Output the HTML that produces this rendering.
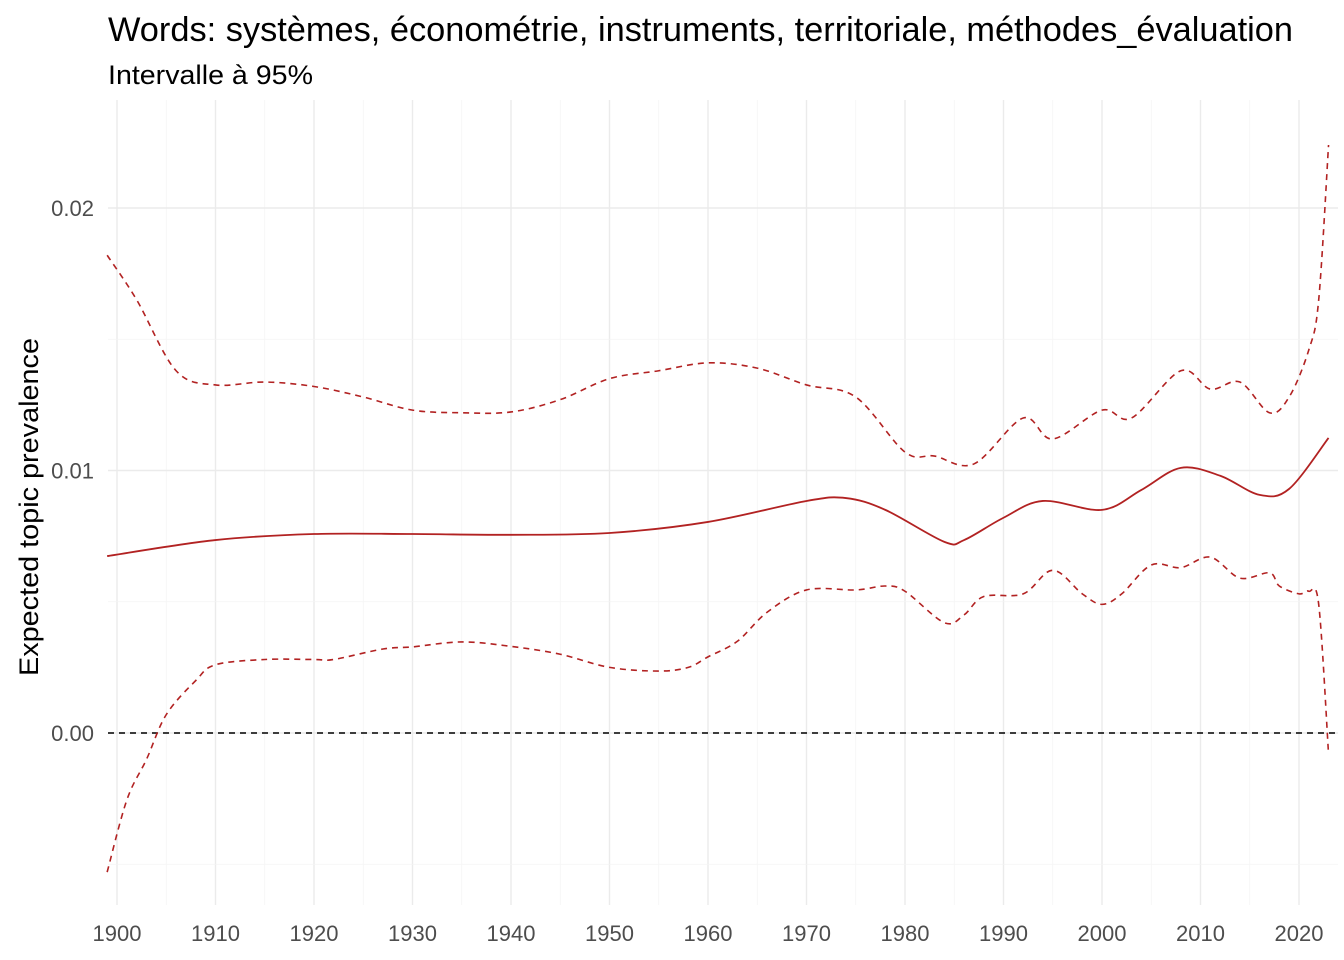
<!DOCTYPE html>
<html><head><meta charset="utf-8">
<style>
body{margin:0;background:#fff;}
svg{display:block;font-family:"Liberation Sans",sans-serif;}
</style></head>
<body>
<svg id="chart" width="1344" height="960">
<text x="108" y="41" font-size="34" textLength="1185" lengthAdjust="spacingAndGlyphs" fill="#000">Words: systèmes, économétrie, instruments, territoriale, méthodes_évaluation</text>
<text x="108" y="84" font-size="27" textLength="205" lengthAdjust="spacingAndGlyphs" fill="#000">Intervalle à 95%</text>
<text transform="translate(38,507) rotate(-90)" font-size="27" textLength="338" lengthAdjust="spacingAndGlyphs" text-anchor="middle" fill="#000">Expected topic prevalence</text>
<g id="grid"></g><g id="marks"></g><g id="ticks"></g>
</svg>
<script>
const meanYears=[1899,1910,1920,1930,1940,1950,1960,1970,1974,1978,1984,1986,1990,1994,2000,2004,2008,2012,2016,2019,2023];
const meanVals=[0.00674,0.00735,0.00758,0.00758,0.00755,0.00762,0.00804,0.00884,0.00895,0.0085,0.00728,0.00735,0.0082,0.00884,0.0085,0.00926,0.0101,0.0098,0.00907,0.0093,0.01124];
const upYears=[1899,1902,1906,1910,1915,1920,1925,1930,1935,1940,1945,1950,1955,1960,1965,1970,1975,1980,1983,1987,1992,1995,2000,2003,2008,2011,2014,2017,2019,2021,2022,2023];
const upVals=[0.0182,0.0165,0.0138,0.01326,0.01337,0.0132,0.0128,0.0123,0.0122,0.01223,0.0127,0.0135,0.0138,0.0141,0.0139,0.01326,0.0128,0.0107,0.01055,0.01025,0.012,0.0112,0.0123,0.012,0.0138,0.0131,0.01337,0.0122,0.0128,0.0146,0.0165,0.0224];
const loYears=[1899,1901,1903,1905,1908,1910,1915,1920,1922,1927,1930,1935,1940,1945,1950,1955,1958,1960,1963,1966,1970,1975,1978,1980,1984,1986,1988,1992,1995,1998,2000,2002,2005,2008,2011,2014,2017,2018,2020,2021,2022,2023];
const loVals=[-0.0053,-0.00255,-0.001,0.0007,0.002,0.0026,0.0028,0.0028,0.0028,0.0032,0.00328,0.00347,0.0033,0.003,0.0025,0.00236,0.0025,0.0029,0.0035,0.0046,0.00545,0.00545,0.0056,0.0054,0.0042,0.0045,0.0052,0.0053,0.0062,0.0053,0.0049,0.0053,0.0064,0.0063,0.0067,0.0059,0.0061,0.0056,0.0053,0.0054,0.0049,-0.0008];
const xTicks=[1900,1910,1920,1930,1940,1950,1960,1970,1980,1990,2000,2010,2020];
const yTicks=[0,0.01,0.02];
const yTickLabels=["0.00","0.01","0.02"];
const X=y=>117+(y-1900)*(1299-117)/120;
const Y=v=>733-v*26250;
const NS="http://www.w3.org/2000/svg";
function mk(tag,attrs,parent){const e=document.createElementNS(NS,tag);for(const k in attrs)e.setAttribute(k,attrs[k]);parent.appendChild(e);return e;}
const grid=document.getElementById('grid'),marks=document.getElementById('marks'),ticks=document.getElementById('ticks');
for(let yr=1900;yr<=2020;yr+=5){const major=yr%10===0;
const l=mk('line',{x1:X(yr),x2:X(yr),y1:100,y2:905,stroke:major?'#ebebeb':'#f4f4f4','stroke-width':major?1.4:0.8},grid);

}
for(let v=-0.005;v<=0.0201;v+=0.005){const major=Math.abs(Math.round(v*1000)%10)===0;
const l=mk('line',{x1:108,x2:1338,y1:Y(v),y2:Y(v),stroke:major?'#ebebeb':'#f4f4f4','stroke-width':major?1.4:0.8},grid);

}
xTicks.forEach(t=>{const e=mk('text',{x:X(t),y:941,'font-size':22,fill:'#4d4d4d','text-anchor':'middle'},ticks);e.textContent=t;

});
yTicks.forEach((t,i)=>{const e=mk('text',{x:94,y:Y(t)+8,'font-size':22,fill:'#4d4d4d','text-anchor':'end'},ticks);e.textContent=yTickLabels[i];

});
function smooth(xs,vs){const p=xs.map((x,i)=>[X(x),Y(vs[i])]);let d=`M${p[0][0]},${p[0][1]}`;
for(let i=0;i<p.length-1;i++){const p0=p[i-1]||p[i],p1=p[i],p2=p[i+1],p3=p[i+2]||p2;
const c1=[p1[0]+(p2[0]-p0[0])/6,p1[1]+(p2[1]-p0[1])/6],c2=[p2[0]-(p3[0]-p1[0])/6,p2[1]-(p3[1]-p1[1])/6];
d+=`C${c1[0]},${c1[1]} ${c2[0]},${c2[1]} ${p2[0]},${p2[1]}`;}return d;}
const zero=mk('line',{x1:108,x2:1338,y1:Y(0),y2:Y(0),stroke:'#000','stroke-width':1.6,'stroke-dasharray':'6,5'},marks);


const up=mk('path',{d:smooth(upYears,upVals),fill:'none',stroke:'#b22222','stroke-width':1.6,'stroke-dasharray':'6,5'},marks);


const lo=mk('path',{d:smooth(loYears,loVals),fill:'none',stroke:'#b22222','stroke-width':1.6,'stroke-dasharray':'6,5'},marks);


const mn=mk('path',{d:smooth(meanYears,meanVals),fill:'none',stroke:'#b22222','stroke-width':1.8},marks);


</script>
</body></html>
